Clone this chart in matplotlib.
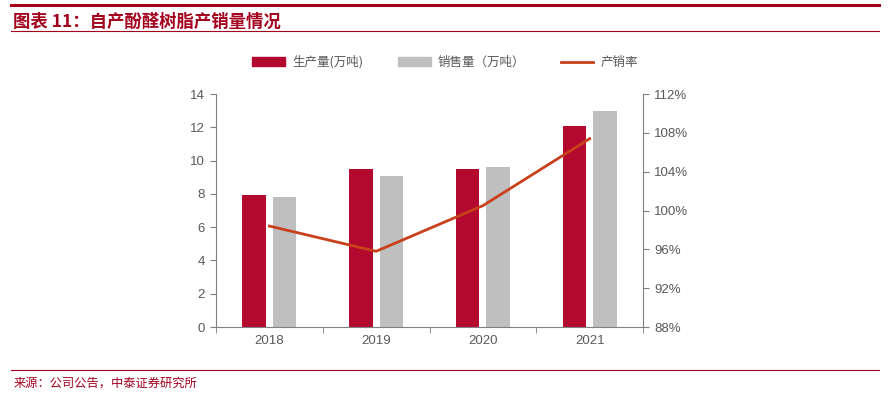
import numpy as np
import matplotlib.pyplot as plt
from matplotlib.lines import Line2D
from matplotlib.patches import Patch

plt.rcParams['font.family'] = ['Liberation Sans', 'Noto Sans CJK SC', 'DejaVu Sans']

# 데이터
years = ['2018', '2019', '2020', '2021']
production = [7.95, 9.5, 9.5, 12.1]
sales = [7.8, 9.1, 9.6, 13.0]
rate = [98.4, 95.8, 100.5, 107.4]

c_prod = '#B3092F'
c_sales = '#BFBFBF'
c_rate = '#C9401C'
c_title = '#A3001E'
c_tick = '#595959'

fig = plt.figure(figsize=(8.9, 3.96), dpi=100)

# 상단 제목과 선
fig.add_artist(Line2D([0.012, 0.988], [0.987, 0.987], color=c_title, lw=2.2))
fig.text(0.015, 0.945, '图表 11：自产酚醛树脂产销量情况', color=c_title, fontsize=12.5,
         fontweight='bold', style='italic', va='center', family=['Noto Sans CJK SC', 'DejaVu Sans'])
fig.add_artist(Line2D([0.012, 0.988], [0.922, 0.922], color=c_title, lw=0.8))

# 하단 출처
fig.add_artist(Line2D([0.012, 0.988], [0.066, 0.066], color=c_title, lw=0.8))
fig.text(0.015, 0.033, '来源：公司公告，中泰证券研究所', color=c_title, fontsize=8.8,
         va='center', family=['Noto Sans CJK SC', 'DejaVu Sans'])

ax = fig.add_axes([0.2427, 0.1742, 0.4798, 0.5884])
x = np.arange(len(years))
w = 0.22
ax.bar(x - 0.143, production, w, color=c_prod, zorder=2)
ax.bar(x + 0.143, sales, w, color=c_sales, zorder=2)
ax.set_xlim(-0.5, 3.5)
ax.set_ylim(0, 14)
ax.set_yticks(range(0, 15, 2))
ax.set_xticks(x)
ax.set_xticklabels(years)
ax.set_xticks(np.arange(-0.5, 4, 1), minor=True)
ax.tick_params(axis='x', which='major', length=0, labelsize=9.5, colors=c_tick, pad=6)
ax.tick_params(axis='x', which='minor', length=4, color='#808080', direction='out')
ax.tick_params(axis='y', length=4, color='#808080', labelsize=9.5, colors=c_tick, pad=4)
for s in ['top', 'right']:
    ax.spines[s].set_visible(False)
for s in ['left', 'bottom']:
    ax.spines[s].set_color('#808080')
    ax.spines[s].set_linewidth(0.8)

ax2 = ax.twinx()
ax2.plot(x, rate, color=c_rate, lw=2, zorder=3)
ax2.set_ylim(88, 112)
ax2.set_yticks(range(88, 113, 4))
ax2.set_yticklabels([f'{v}%' for v in range(88, 113, 4)])
ax2.tick_params(axis='y', length=4, color='#808080', labelsize=9.5, colors=c_tick, pad=4)
for s in ['top', 'left', 'bottom']:
    ax2.spines[s].set_visible(False)
ax2.spines['right'].set_color('#808080')
ax2.spines['right'].set_linewidth(0.8)

handles = [Patch(color=c_prod), Patch(color=c_sales), Line2D([], [], color=c_rate, lw=2)]
labels = ['生产量(万吨)', '销售量（万吨）', '产销率']
fig.legend(handles, labels, loc='center', bbox_to_anchor=(0.5, 0.843), ncol=3, frameon=False,
           handlelength=2.6, handleheight=0.7, columnspacing=2.8, handletextpad=0.6,
           prop={'family': ['Noto Sans CJK SC', 'DejaVu Sans'], 'size': 9}, labelcolor=c_tick)

fig.savefig('out.png', dpi=100, facecolor='white')
